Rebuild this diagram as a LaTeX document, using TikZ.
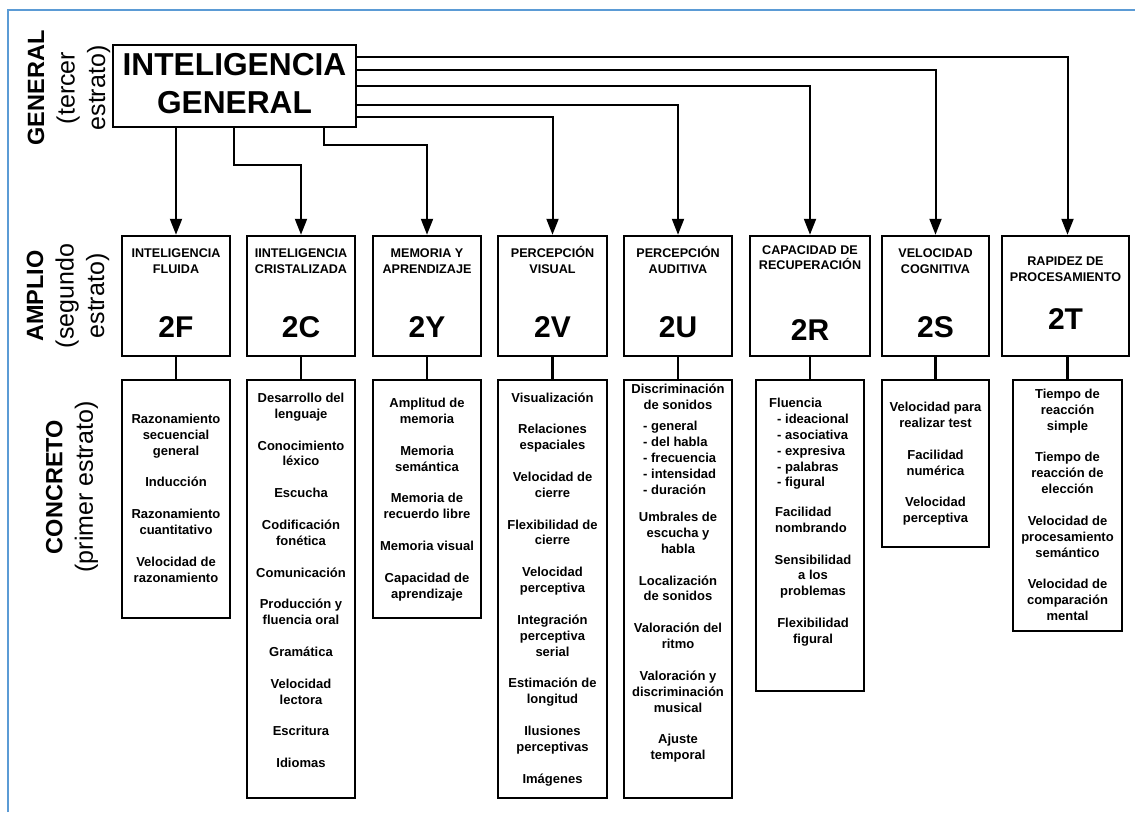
\documentclass[tikz,border=0pt]{standalone}
\usepackage{fontspec}
\setmainfont{Liberation Sans}
\usetikzlibrary{arrows.meta}
\definecolor{framecol}{HTML}{5B9BD5}
\newcommand{\blankrow}{\\[15.87pt]}
\begin{document}
\begin{tikzpicture}[x=1pt,y=-1pt,
  gbox/.style={draw,line width=2pt,inner sep=0pt},
  mbox/.style={draw,line width=2.5pt,inner sep=0pt,minimum height=120pt},
  cbox/.style={draw,line width=2.5pt,inner sep=0pt},
  arr/.style={line width=2pt,-{Triangle[length=16pt,width=12pt]}},
  link/.style={line width=2.5pt},
  ttl/.style={font=\bfseries\fontsize{12.6}{15.8}\selectfont,align=center,anchor=base,inner sep=0pt},
  code/.style={font=\bfseries\fontsize{30}{36}\selectfont,anchor=base,inner sep=0pt},
  item/.style={font=\bfseries\fontsize{13}{15.87}\selectfont,align=center,anchor=base,inner sep=0pt},
  itemL/.style={item,align=left,anchor=base west},
  side/.style={rotate=90,align=center,inner sep=0pt,font=\fontsize{25}{30.5}\selectfont},
]
\useasboundingbox (0,0) rectangle (1135,812);

% outer frame (top and left edges)
\draw[framecol,line width=2pt] (7.5,812) -- (7.5,9.5) -- (1135,9.5);

% stratum labels
\node[side] (lg) at (69,88) {{\bfseries\fontsize{23.5}{30.5}\selectfont GENERAL}\\(tercer\\estrato)};
\node[side] (la) at (68,296) {{\bfseries\fontsize{23.5}{30.5}\selectfont AMPLIO}\\(segundo\\estrato)};
\node[side] (lc) at (72,487) {{\bfseries\fontsize{23.5}{30.5}\selectfont CONCRETO}\\(primer estrato)};

% general intelligence (text anchors sit on the last baseline)
\node[gbox,minimum width=243pt,minimum height=82pt] (gen) at (234.5,86) {};
\node[font=\bfseries\fontsize{31.7}{38}\selectfont,align=center,anchor=base,inner sep=0pt] (gentxt) at (234.5,113) {INTELIGENCIA\\GENERAL};

% broad abilities
\node[mbox,minimum width=108pt] (f2) at (176,296) {};
\node[mbox,minimum width=108pt] (c2) at (301,296) {};
\node[mbox,minimum width=108pt] (y2) at (427,296) {};
\node[mbox,minimum width=109pt] (v2) at (552.5,296) {};
\node[mbox,minimum width=108pt] (u2) at (678,296) {};
\node[mbox,minimum width=120pt] (r2) at (810,296) {};
\node[mbox,minimum width=107pt] (s2) at (935.5,296) {};
\node[mbox,minimum width=127pt] (t2) at (1065.5,296) {};

\node[ttl] (f2t) at (176,273.3) {INTELIGENCIA\\FLUIDA};
\node[ttl] (c2t) at (301,273.3) {IINTELIGENCIA\\CRISTALIZADA};
\node[ttl] (y2t) at (427,273.3) {MEMORIA Y\\APRENDIZAJE};
\node[ttl] (v2t) at (552.5,273.3) {PERCEPCIÓN\\VISUAL};
\node[ttl] (u2t) at (678,273.3) {PERCEPCIÓN\\AUDITIVA};
\node[ttl] (r2t) at (810,269.8) {CAPACIDAD DE\\RECUPERACIÓN};
\node[ttl] (s2t) at (935.5,273.3) {VELOCIDAD\\COGNITIVA};
\node[ttl] (t2t) at (1065.5,281.7) {RAPIDEZ DE\\PROCESAMIENTO};

\node[code] (f2c) at (176,337.7) {2F};
\node[code] (c2c) at (301,337.7) {2C};
\node[code] (y2c) at (427,337.7) {2Y};
\node[code] (v2c) at (552.5,337.7) {2V};
\node[code] (u2c) at (678,337.7) {2U};
\node[code] (r2c) at (810,340.8) {2R};
\node[code] (s2c) at (935.5,337.7) {2S};
\node[code] (t2c) at (1065.5,329) {2T};

% narrow abilities
\node[cbox,minimum width=108pt,minimum height=238pt] (f3) at (176,499) {};
\node[cbox,minimum width=108pt,minimum height=418pt] (c3) at (301,589) {};
\node[cbox,minimum width=108pt,minimum height=238pt] (y3) at (427,499) {};
\node[cbox,minimum width=109pt,minimum height=418pt] (v3) at (552.5,589) {};
\node[cbox,minimum width=108pt,minimum height=418pt] (u3) at (678,589) {};
\node[cbox,minimum width=108pt,minimum height=311pt] (r3) at (810,535.5) {};
\node[cbox,minimum width=107pt,minimum height=167pt] (s3) at (935.5,463.5) {};
\node[cbox,minimum width=109pt,minimum height=251pt] (t3) at (1067.5,505.5) {};

\node[item] (f3t) at (176,582.2) {Razonamiento\\secuencial\\general\blankrow Inducción\blankrow Razonamiento\\cuantitativo\blankrow Velocidad de\\razonamiento};
\node[item] (c3t) at (301,767.5) {Desarrollo del\\lenguaje\blankrow Conocimiento\\léxico\blankrow Escucha\blankrow Codificación\\fonética\blankrow Comunicación\blankrow Producción y\\fluencia oral\blankrow Gramática\blankrow Velocidad\\lectora\blankrow Escritura\blankrow Idiomas};
\node[item] (y3t) at (427,598) {Amplitud de\\memoria\blankrow Memoria\\semántica\blankrow Memoria de\\recuerdo libre\blankrow Memoria visual\blankrow Capacidad de\\aprendizaje};
\node[item] (v3t) at (552.5,783) {Visualización\blankrow Relaciones\\espaciales\blankrow Velocidad de\\cierre\blankrow Flexibilidad de\\cierre\blankrow Velocidad\\perceptiva\blankrow Integración\\perceptiva\\serial\blankrow Estimación de\\longitud\blankrow Ilusiones\\perceptivas\blankrow Imágenes};
\node[item] (u3a) at (678,409.4) {Discriminación\\de sonidos};
\node[itemL] (u3b) at (643,494) {- general\\- del habla\\- frecuencia\\- intensidad\\- duración};
\node[item] (u3c) at (678,759.6) {Umbrales de\\escucha y\\habla\blankrow Localización\\de sonidos\blankrow Valoración del\\ritmo\blankrow Valoración y\\discriminación\\musical\blankrow Ajuste\\temporal};
\node[itemL] (r3a) at (769,486.9) {Fluencia\\\hspace*{8pt}- ideacional\\\hspace*{8pt}- asociativa\\\hspace*{8pt}- expresiva\\\hspace*{8pt}- palabras\\\hspace*{8pt}- figural};
\node[itemL] (r3b) at (775,532.4) {Facilidad\\nombrando};
\node[item] (r3c) at (813,643.4) {Sensibilidad\\a los\\problemas\blankrow Flexibilidad\\figural};
\node[item] (s3t) at (935.5,522.6) {Velocidad para\\realizar test\blankrow Facilidad\\numérica\blankrow Velocidad\\perceptiva};
\node[item] (t3t) at (1067.5,620.5) {Tiempo de\\reacción\\simple\blankrow Tiempo de\\reacción de\\elección\blankrow Velocidad de\\procesamiento\\semántico\blankrow Velocidad de\\comparación\\mental};

% arrows from general intelligence to broad abilities
\draw[arr] (f2.north |- gen.south) -- (f2.north);
\draw[arr] ([xshift=122pt]gen.south west) -- ++(0,37) -| (c2.north);
\draw[arr] ([xshift=212pt]gen.south west) -- ++(0,17) -| (y2.north);
\draw[arr] ([yshift=-31pt]gen.east) -| (v2.north);
\draw[arr] ([yshift=-19pt]gen.east) -| (u2.north);
\draw[arr] (gen.east) -| (r2.north);
\draw[arr] ([yshift=16pt]gen.east) -| (s2.north);
\draw[arr] ([yshift=29pt]gen.east) -| (t3.north |- t2.north);

% links from broad to narrow abilities
\draw[link] (f2.south) -- (f3.north);
\draw[link] (c2.south) -- (c3.north);
\draw[link] (y2.south) -- (y3.north);
\draw[link] (v2.south) -- (v3.north);
\draw[link] (u2.south) -- (u3.north);
\draw[link] (r2.south) -- (r3.north);
\draw[link] (s2.south) -- (s3.north);
\draw[link] (t3.north |- t2.south) -- (t3.north);
\end{tikzpicture}
\end{document}
